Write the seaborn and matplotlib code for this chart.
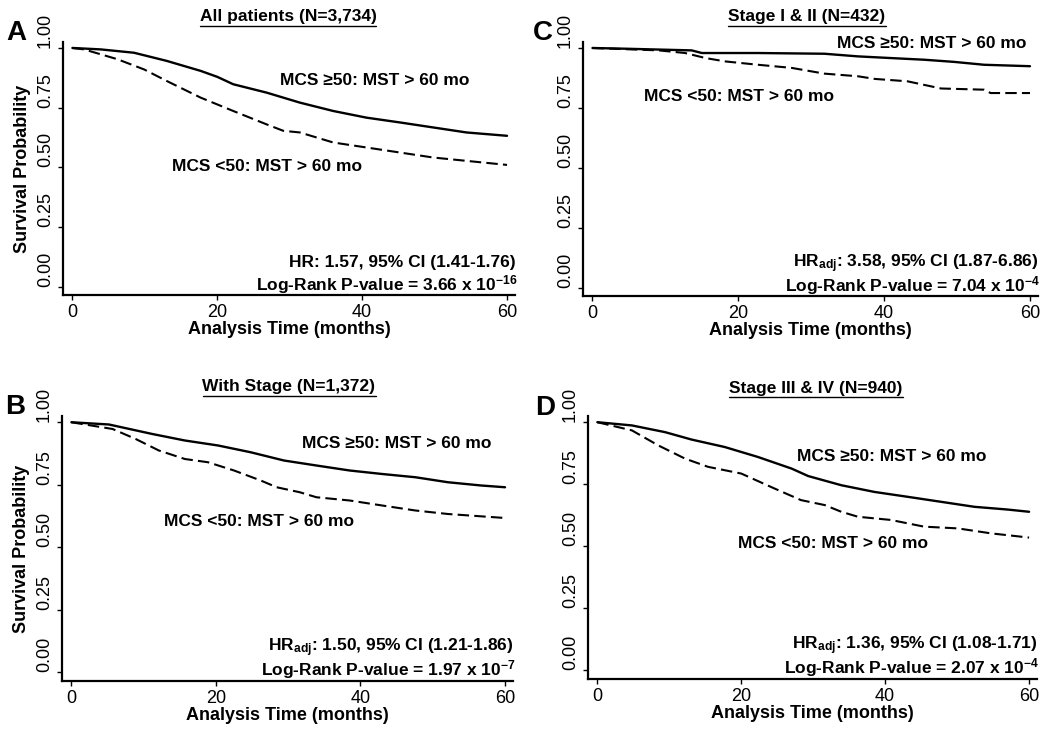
import numpy as np
import pandas as pd
import seaborn as sns
import matplotlib.pyplot as plt

# Kaplan-Meier curves (months, survival probability)
# Panel A: all patients
a_hi_t = [0, 3.9, 8.5, 13.0, 17.7, 20.0, 22.2, 26.8, 31.4, 36.0, 40.6, 45.2, 49.8, 54.4, 60]
a_hi_s = [1.0, 0.994, 0.98, 0.946, 0.904, 0.879, 0.848, 0.813, 0.771, 0.736, 0.708, 0.688, 0.667, 0.646, 0.632]
a_lo_t = [0, 1.6, 6.2, 9.9, 13.0, 17.7, 22.2, 26.8, 29.1, 31.4, 36.0, 40.6, 45.2, 49.8, 54.4, 60]
a_lo_s = [1.0, 0.994, 0.953, 0.91, 0.862, 0.792, 0.736, 0.68, 0.653, 0.646, 0.604, 0.583, 0.562, 0.541, 0.527, 0.51]

# Panel B: with stage
b_hi_t = [0, 5.2, 11.2, 15.7, 20.3, 24.8, 29.4, 33.9, 38.5, 43.0, 47.6, 52.1, 56.7, 60]
b_hi_s = [1.0, 0.991, 0.953, 0.927, 0.907, 0.88, 0.847, 0.827, 0.807, 0.793, 0.78, 0.76, 0.747, 0.74]
b_lo_t = [0, 5.7, 8.9, 12.1, 15.7, 18.9, 22.5, 26.2, 28.4, 31.6, 33.9, 38.5, 43.0, 47.6, 52.1, 60]
b_lo_s = [1.0, 0.973, 0.933, 0.887, 0.853, 0.84, 0.807, 0.767, 0.74, 0.72, 0.70, 0.687, 0.667, 0.647, 0.633, 0.617]

# Panel C: stage I & II
c_hi_t = [0, 4.5, 13.6, 15.0, 22.7, 31.8, 36.4, 40.9, 45.5, 49.6, 53.7, 60]
c_hi_s = [1.0, 0.997, 0.99, 0.979, 0.979, 0.976, 0.965, 0.958, 0.951, 0.942, 0.93, 0.924]
c_lo_t = [0, 9.1, 12.7, 15.5, 18.2, 22.7, 27.3, 31.8, 36.4, 38.7, 43.2, 47.8, 53.7, 54.6, 60]
c_lo_s = [1.0, 0.99, 0.979, 0.958, 0.944, 0.93, 0.917, 0.893, 0.882, 0.871, 0.861, 0.831, 0.826, 0.812, 0.812]

# Panel D: stage III & IV
d_hi_t = [0, 4.8, 9.4, 13.1, 17.7, 22.3, 27.0, 29.3, 33.9, 38.5, 43.2, 47.8, 52.4, 57.0, 60]
d_hi_s = [1.0, 0.987, 0.96, 0.93, 0.90, 0.86, 0.813, 0.783, 0.746, 0.719, 0.699, 0.679, 0.659, 0.648, 0.639]
d_lo_t = [0, 4.8, 8.5, 12.2, 15.4, 20.0, 24.6, 28.3, 31.6, 33.9, 36.2, 40.8, 45.4, 50.1, 54.7, 60]
d_lo_s = [1.0, 0.967, 0.906, 0.853, 0.82, 0.793, 0.733, 0.686, 0.666, 0.639, 0.619, 0.606, 0.579, 0.572, 0.552, 0.535]

titles = ["All patients (N=3,734)", "With Stage (N=1,372)", "Stage I & II (N=432)", "Stage III & IV (N=940)"]
letters = ["A", "B", "C", "D"]
hr_text = ["HR: 1.57, 95% CI (1.41-1.76)",
           r"HR$_{\mathrm{adj}}$: 1.50, 95% CI (1.21-1.86)",
           r"HR$_{\mathrm{adj}}$: 3.58, 95% CI (1.87-6.86)",
           r"HR$_{\mathrm{adj}}$: 1.36, 95% CI (1.08-1.71)"]
p_text = [r"Log-Rank P-value = 3.66 x 10$^{-16}$",
          r"Log-Rank P-value = 1.97 x 10$^{-7}$",
          r"Log-Rank P-value = 7.04 x 10$^{-4}$",
          r"Log-Rank P-value = 2.07 x 10$^{-4}$"]
hi_label = "MCS \u226550: MST > 60 mo"
lo_label = "MCS <50: MST > 60 mo"

curves = [(a_hi_t, a_hi_s, a_lo_t, a_lo_s),
          (b_hi_t, b_hi_s, b_lo_t, b_lo_s),
          (c_hi_t, c_hi_s, c_lo_t, c_lo_s),
          (d_hi_t, d_hi_s, d_lo_t, d_lo_s)]

sns.set_style("ticks")
plt.rcParams["font.family"] = ["Liberation Sans", "DejaVu Sans"]
plt.rcParams["mathtext.fontset"] = "custom"
plt.rcParams["mathtext.rm"] = "Liberation Sans:bold"
plt.rcParams["mathtext.bf"] = "Liberation Sans:bold"
plt.rcParams["mathtext.it"] = "Liberation Sans:bold"
for k in ["text.color", "axes.labelcolor", "xtick.color", "ytick.color", "axes.edgecolor"]:
    plt.rcParams[k] = "black"

fig = plt.figure(figsize=(10.5, 7.32), dpi=100)
W, H = 1050, 732

# axes boxes in pixels: left, right, top, bottom
boxes = [(63, 515, 42, 295), (62, 513, 416, 681), (583, 1038, 42, 296), (588, 1037, 416, 679)]
# label positions (data coords)
hi_pos = [(28.6, 0.862), (31.9, 0.916), (33.5, 1.02), (27.8, 0.863)]
lo_pos = [(13.8, 0.502), (12.8, 0.604), (7.0, 0.796), (19.5, 0.51)]
title_pos = [(288, 17), (289, 387), (807, 17), (816, 388)]
letter_pos = [(6, 33), (5, 407), (533, 33), (535, 408)]

for i in range(4):
    l, r, t, b = boxes[i]
    ax = fig.add_axes([l / W, 1 - b / H, (r - l) / W, (b - t) / H])
    hi_t, hi_s, lo_t, lo_s = curves[i]
    df_hi = pd.DataFrame({"t": hi_t, "s": hi_s})
    df_lo = pd.DataFrame({"t": lo_t, "s": lo_s})
    sns.lineplot(data=df_hi, x="t", y="s", ax=ax, color="black", lw=1.7)
    sns.lineplot(data=df_lo, x="t", y="s", ax=ax, color="black", lw=1.5, linestyle=(0, (5.5, 2.5)))

    ax.set_xlim(-1.3, 61.1)
    ax.set_ylim(-0.035, 1.025)
    ax.set_xticks([0, 20, 40, 60])
    ax.set_yticks([0, 0.25, 0.5, 0.75, 1.0])
    ax.set_yticklabels(["0.00", "0.25", "0.50", "0.75", "1.00"], rotation=90, va="bottom")
    ax.tick_params(axis="both", labelsize=13, length=3.5, width=1.0, pad=3)
    sns.despine(ax=ax)
    for s in ["left", "bottom"]:
        ax.spines[s].set_linewidth(1.6)
    ax.set_xlabel("Analysis Time (months)", fontsize=13, fontweight="bold", labelpad=0)
    if i < 2:
        ax.set_ylabel("Survival Probability", fontsize=13, fontweight="bold", labelpad=4)
    else:
        ax.set_ylabel("")

    ax.text(hi_pos[i][0], hi_pos[i][1], hi_label, fontsize=12.5, fontweight="bold", va="center", ha="left")
    ax.text(lo_pos[i][0], lo_pos[i][1], lo_label, fontsize=12.5, fontweight="bold", va="center", ha="left")
    ax.text(61.2, 0.10, hr_text[i], fontsize=12.5, fontweight="bold", ha="right", va="center")
    ax.text(61.4, 0.01, p_text[i], fontsize=12.5, fontweight="bold", ha="right", va="center")

    fig.text(letter_pos[i][0] / W, 1 - letter_pos[i][1] / H, letters[i], fontsize=20,
             fontweight="bold", ha="left", va="center")

# underlined panel titles
fig.canvas.draw()
renderer = fig.canvas.get_renderer()
for i in range(4):
    x, y = title_pos[i]
    tt = fig.text(x / W, 1 - y / H, titles[i], fontsize=12.5, fontweight="bold", ha="center", va="center")
    bb = tt.get_window_extent(renderer=renderer)
    yl = (bb.y0 - 1) / H
    fig.add_artist(plt.Line2D([bb.x0 / W, bb.x1 / W], [yl, yl], color="black", lw=1.0,
                              transform=fig.transFigure))

fig.savefig("out.png", dpi=100, facecolor="white")
